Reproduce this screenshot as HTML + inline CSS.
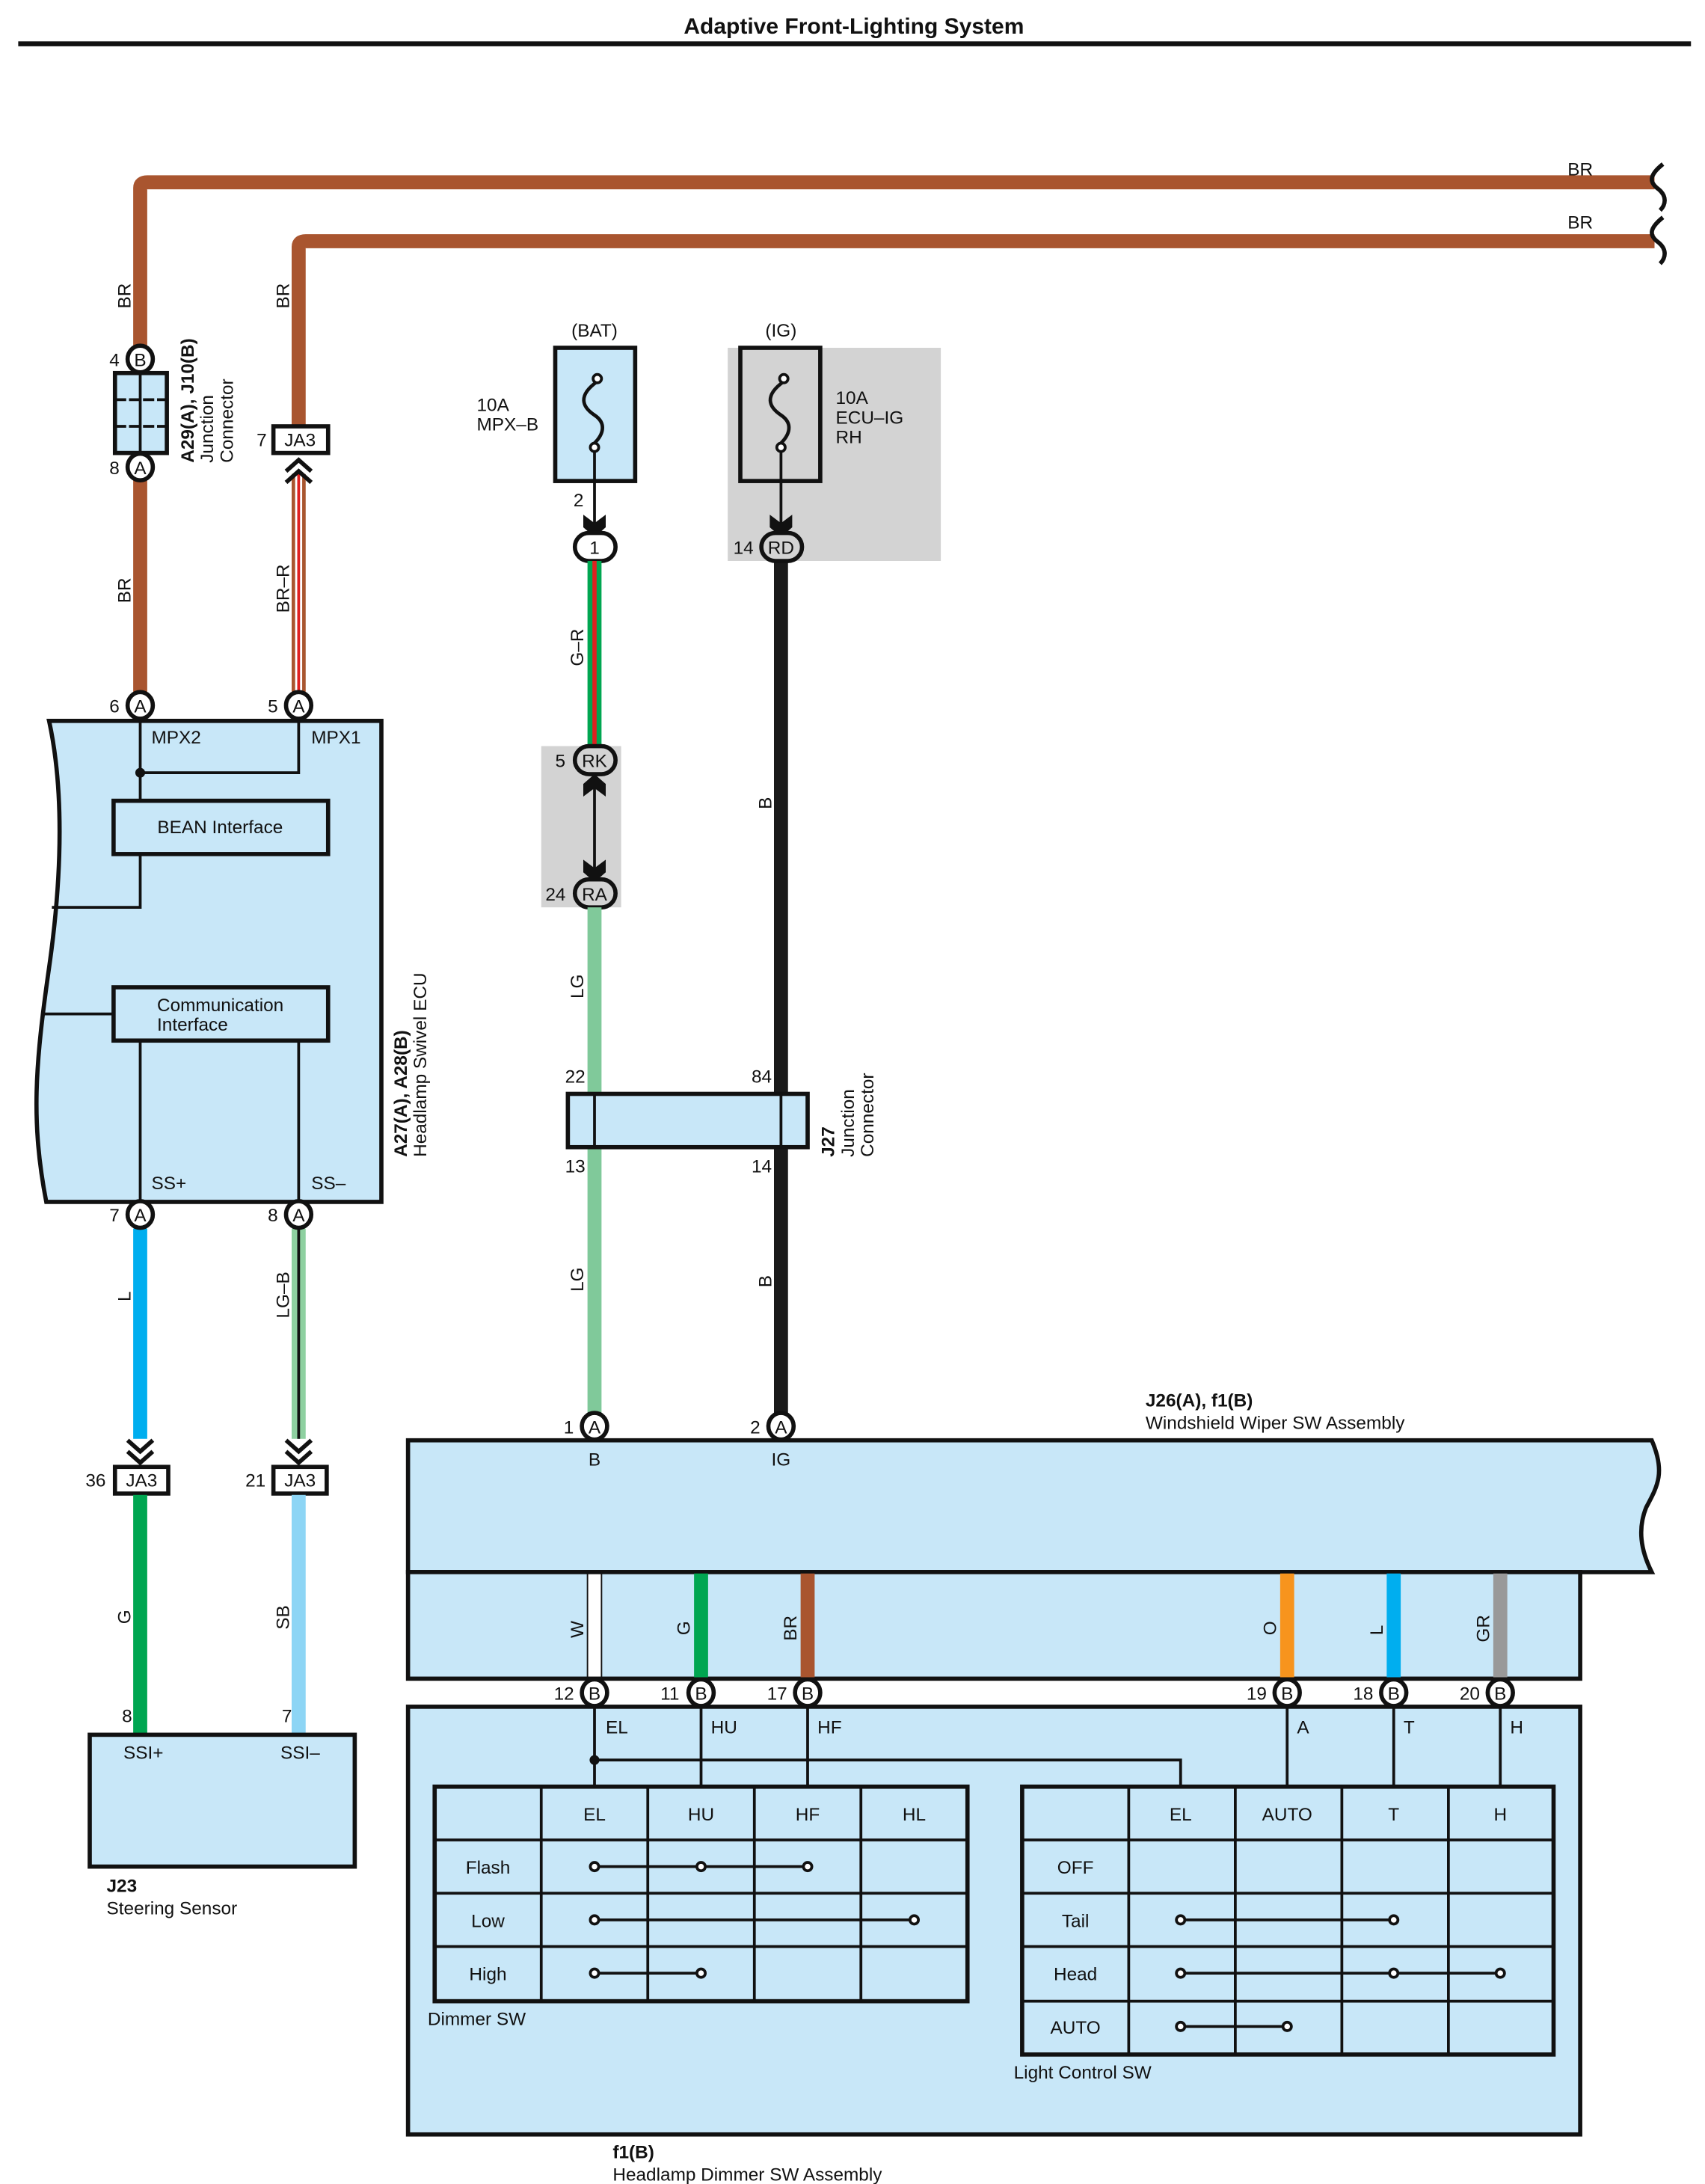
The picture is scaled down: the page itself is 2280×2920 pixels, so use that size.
<!DOCTYPE html>
<html><head><meta charset="utf-8"><style>
html,body{margin:0;padding:0;background:#fff}
svg{display:block}
text{font-family:"Liberation Sans",sans-serif;font-size:13px;fill:#111}
.b{font-weight:bold}
</style></head><body>
<svg width="2280" height="2920" viewBox="0 0 1216 1557.33" preserveAspectRatio="none" xmlns="http://www.w3.org/2000/svg">
<defs>
<g id="arD"><path d="M-8,-9 L0,-3 L8,-9 L8,0 L0,7 L-8,0 Z" fill="#111"/></g>
<g id="arU"><path d="M-8,9 L0,3 L8,9 L8,0 L0,-7 L-8,0 Z" fill="#111"/></g>
</defs>
<!-- title -->
<text x="609" y="24" text-anchor="middle" class="b" style="font-size:16px">Adaptive Front-Lighting System</text>
<rect x="13" y="29.5" width="1193" height="3.5" fill="#111"/>

<!-- top BR wires -->
<path d="M100,248 V134 Q100,130 105,130 H1180" stroke="#A9552F" stroke-width="10" fill="none"/>
<path d="M213,305 V176 Q213,172 218,172 H1180" stroke="#A9552F" stroke-width="10" fill="none"/>
<path d="M1186,117 C1176,125 1176,130 1183,135 C1189,140 1188,146 1184,150" stroke="#111" stroke-width="3" fill="none"/>
<path d="M1186,155 C1176,163 1176,168 1183,173 C1189,178 1188,184 1184,188" stroke="#111" stroke-width="3" fill="none"/>
<text x="1118" y="125">BR</text>
<text x="1118" y="163">BR</text>
<text transform="translate(93,220) rotate(-90)">BR</text>
<text transform="translate(206,220) rotate(-90)">BR</text>

<!-- A29 connector -->
<rect x="95" y="340" width="10" height="160" fill="#A9552F"/>
<text transform="translate(93,430) rotate(-90)">BR</text>
<rect x="82" y="266" width="37" height="57" fill="#C8E7F8" stroke="#111" stroke-width="3"/>
<line x1="100" y1="266" x2="100" y2="323" stroke="#111" stroke-width="2"/>
<line x1="82" y1="285" x2="119" y2="285" stroke="#111" stroke-width="2" stroke-dasharray="8,2"/>
<line x1="82" y1="304" x2="119" y2="304" stroke="#111" stroke-width="2" stroke-dasharray="8,2"/>
<ellipse cx="100" cy="256" rx="9" ry="9.5" fill="#fff" stroke="#111" stroke-width="3"/><text x="100" y="261" text-anchor="middle">B</text><text x="78" y="261">4</text>
<ellipse cx="100" cy="333" rx="9" ry="9.5" fill="#fff" stroke="#111" stroke-width="3"/><text x="100" y="338" text-anchor="middle">A</text><text x="78" y="338">8</text>
<text transform="translate(138,330) rotate(-90)" class="b">A29(A), J10(B)</text>
<text transform="translate(152,330) rotate(-90)">Junction</text>
<text transform="translate(166,330) rotate(-90)">Connector</text>

<!-- JA3 top -->
<rect x="195" y="304" width="39" height="19" fill="#fff" stroke="#111" stroke-width="3"/>
<text x="214" y="318" text-anchor="middle">JA3</text><text x="183" y="318">7</text>
<rect x="208" y="338" width="10" height="160" fill="#A9552F"/>
<rect x="210.5" y="338" width="5" height="160" fill="#fff"/>
<rect x="212" y="338" width="2" height="160" fill="#E02020"/>
<path d="M204,336 L213,328 L222,336 M204,344 L213,336 L222,344" stroke="#111" stroke-width="3" fill="none"/>
<text transform="translate(206,437) rotate(-90)">BR–R</text>

<!-- ECU -->
<path d="M35,514 H272 V857 H33 C22,800 25,760 35,690 C45,620 45,560 35,514 Z" fill="#C8E7F8" stroke="#111" stroke-width="3"/>
<ellipse cx="100" cy="503" rx="9" ry="9.5" fill="#fff" stroke="#111" stroke-width="3"/><text x="100" y="508" text-anchor="middle">A</text><text x="78" y="508">6</text>
<ellipse cx="213" cy="503" rx="9" ry="9.5" fill="#fff" stroke="#111" stroke-width="3"/><text x="213" y="508" text-anchor="middle">A</text><text x="191" y="508">5</text>
<text x="108" y="530">MPX2</text><text x="222" y="530">MPX1</text>
<path d="M100,514 V571 M213,514 V551 H100" stroke="#111" stroke-width="2" fill="none"/>
<circle cx="100" cy="551" r="3.5" fill="#111"/>
<rect x="81" y="571" width="153" height="38" fill="#C8E7F8" stroke="#111" stroke-width="3"/>
<text x="157" y="594" text-anchor="middle">BEAN Interface</text>
<path d="M100,609 V647 H37" stroke="#111" stroke-width="2" fill="none"/>
<rect x="81" y="704" width="153" height="38" fill="#C8E7F8" stroke="#111" stroke-width="3"/>
<text x="112" y="721">Communication</text><text x="112" y="735">Interface</text>
<path d="M81,723 H31" stroke="#111" stroke-width="2"/>
<path d="M100,742 V857 M213,742 V857" stroke="#111" stroke-width="2"/>
<text x="108" y="848">SS+</text><text x="222" y="848">SS–</text>
<text transform="translate(290,825) rotate(-90)" class="b">A27(A), A28(B)</text>
<text transform="translate(304,825) rotate(-90)">Headlamp Swivel ECU</text>

<!-- lower left wires -->
<rect x="95" y="876" width="10" height="150" fill="#00AEEF"/>
<rect x="208" y="876" width="10" height="150" fill="#8ED0A0"/>
<rect x="212" y="876" width="2" height="150" fill="#111"/>
<ellipse cx="100" cy="866" rx="9" ry="9.5" fill="#fff" stroke="#111" stroke-width="3"/><text x="100" y="871" text-anchor="middle">A</text><text x="78" y="871">7</text>
<ellipse cx="213" cy="866" rx="9" ry="9.5" fill="#fff" stroke="#111" stroke-width="3"/><text x="213" y="871" text-anchor="middle">A</text><text x="191" y="871">8</text>
<text transform="translate(93,928) rotate(-90)">L</text>
<text transform="translate(206,940) rotate(-90)">LG–B</text>
<path d="M91,1027 L100,1035 L109,1027 M91,1035 L100,1043 L109,1035" stroke="#111" stroke-width="3" fill="none"/>
<path d="M204,1027 L213,1035 L222,1027 M204,1035 L213,1043 L222,1035" stroke="#111" stroke-width="3" fill="none"/>
<rect x="82" y="1046" width="38" height="19" fill="#fff" stroke="#111" stroke-width="3"/><text x="101" y="1060" text-anchor="middle">JA3</text><text x="61" y="1060">36</text>
<rect x="195" y="1046" width="38" height="19" fill="#fff" stroke="#111" stroke-width="3"/><text x="214" y="1060" text-anchor="middle">JA3</text><text x="175" y="1060">21</text>
<rect x="95" y="1066" width="10" height="171" fill="#00A651"/>
<rect x="208" y="1066" width="10" height="171" fill="#8DD5F5"/>
<text transform="translate(93,1158) rotate(-90)">G</text>
<text transform="translate(206,1162) rotate(-90)">SB</text>
<text x="87" y="1228">8</text><text x="201" y="1228">7</text>
<rect x="64" y="1237" width="189" height="94" fill="#C8E7F8" stroke="#111" stroke-width="3"/>
<text x="88" y="1254">SSI+</text><text x="200" y="1254">SSI–</text>
<text x="76" y="1349" class="b">J23</text><text x="76" y="1365">Steering Sensor</text>

<!-- BAT fuse -->
<text x="424" y="240" text-anchor="middle">(BAT)</text>
<rect x="396" y="248" width="57" height="95" fill="#C8E7F8" stroke="#111" stroke-width="3"/>
<path d="M426,272 C412,282 415,290 424,296 C433,302 430,310 424,316" stroke="#111" stroke-width="2.5" fill="none"/>
<circle cx="426" cy="270" r="3" fill="#fff" stroke="#111" stroke-width="2"/><circle cx="424" cy="319" r="3" fill="#fff" stroke="#111" stroke-width="2"/>
<text x="340" y="293">10A</text><text x="340" y="307">MPX–B</text>
<line x1="424" y1="322" x2="424" y2="374" stroke="#111" stroke-width="2"/>
<use href="#arD" x="424" y="376"/>
<text x="409" y="361">2</text>
<rect x="410" y="380" width="29" height="20" rx="10" fill="#fff" stroke="#111" stroke-width="3"/><text x="424" y="395" text-anchor="middle">1</text>
<rect x="419" y="400" width="10" height="135" fill="#00A651"/>
<rect x="422.5" y="400" width="3" height="135" fill="#E02020"/>
<text transform="translate(416,475) rotate(-90)">G–R</text>

<!-- IG fuse -->
<rect x="519" y="248" width="152" height="152" fill="#D3D3D3"/>
<text x="557" y="240" text-anchor="middle">(IG)</text>
<rect x="528" y="248" width="57" height="95" fill="#D3D3D3" stroke="#111" stroke-width="3"/>
<path d="M559,272 C545,282 548,290 557,296 C566,302 563,310 557,316" stroke="#111" stroke-width="2.5" fill="none"/>
<circle cx="559" cy="270" r="3" fill="#fff" stroke="#111" stroke-width="2"/><circle cx="557" cy="319" r="3" fill="#fff" stroke="#111" stroke-width="2"/>
<text x="596" y="288">10A</text><text x="596" y="302">ECU–IG</text><text x="596" y="316">RH</text>
<line x1="557" y1="322" x2="557" y2="374" stroke="#111" stroke-width="2"/>
<use href="#arD" x="557" y="376"/>
<rect x="552" y="400" width="10" height="610" fill="#1a1a1a"/>
<rect x="543" y="380" width="29" height="20" rx="10" fill="#D3D3D3" stroke="#111" stroke-width="3"/><text x="557" y="395" text-anchor="middle">RD</text><text x="523" y="395">14</text>
<text transform="translate(550,577) rotate(-90)">B</text>
<text transform="translate(550,918) rotate(-90)">B</text>

<!-- RK/RA -->
<rect x="386" y="532" width="57" height="115" fill="#D3D3D3"/>
<line x1="424" y1="556" x2="424" y2="624" stroke="#111" stroke-width="2"/>
<use href="#arU" x="424" y="559"/>
<use href="#arD" x="424" y="622"/>
<rect x="410" y="532" width="29" height="20" rx="10" fill="#D3D3D3" stroke="#111" stroke-width="3"/><text x="424" y="547" text-anchor="middle">RK</text><text x="396" y="547">5</text>
<rect x="410" y="627" width="29" height="20" rx="10" fill="#D3D3D3" stroke="#111" stroke-width="3"/><text x="424" y="642" text-anchor="middle">RA</text><text x="389" y="642">24</text>
<rect x="419" y="647" width="10" height="363" fill="#80C99A"/>
<text transform="translate(416,712) rotate(-90)">LG</text>
<text transform="translate(416,921) rotate(-90)">LG</text>

<!-- J27 -->
<rect x="405" y="780" width="171" height="38" fill="#C8E7F8" stroke="#111" stroke-width="3"/>
<line x1="424" y1="780" x2="424" y2="818" stroke="#111" stroke-width="2"/>
<line x1="557" y1="780" x2="557" y2="818" stroke="#111" stroke-width="2"/>
<text x="403" y="772">22</text><text x="536" y="772">84</text><text x="403" y="836">13</text><text x="536" y="836">14</text>
<text transform="translate(595,825) rotate(-90)" class="b">J27</text>
<text transform="translate(609,825) rotate(-90)">Junction</text>
<text transform="translate(623,825) rotate(-90)">Connector</text>

<!-- Windshield Wiper SW Assembly -->
<text x="817" y="1003" class="b">J26(A), f1(B)</text><text x="817" y="1019">Windshield Wiper SW Assembly</text>
<path d="M291,1027 H1178 C1188,1050 1182,1060 1174,1075 C1168,1090 1170,1105 1178,1121 H291 Z" fill="#C8E7F8" stroke="#111" stroke-width="3"/>
<ellipse cx="424" cy="1017" rx="9" ry="9.5" fill="#fff" stroke="#111" stroke-width="3"/><text x="424" y="1022" text-anchor="middle">A</text><text x="402" y="1022">1</text>
<ellipse cx="557" cy="1017" rx="9" ry="9.5" fill="#fff" stroke="#111" stroke-width="3"/><text x="557" y="1022" text-anchor="middle">A</text><text x="535" y="1022">2</text>
<text x="424" y="1045" text-anchor="middle">B</text><text x="557" y="1045" text-anchor="middle">IG</text>
<rect x="291" y="1121" width="836" height="76" fill="#C8E7F8" stroke="#111" stroke-width="3"/>
<rect x="419" y="1122" width="10" height="74" fill="#fff" stroke="#111" stroke-width="1"/>
<rect x="495" y="1122" width="10" height="74" fill="#00A651"/>
<rect x="571" y="1122" width="10" height="74" fill="#A9552F"/>
<rect x="913" y="1122" width="10" height="74" fill="#F7941D"/>
<rect x="989" y="1122" width="10" height="74" fill="#00AEEF"/>
<rect x="1065" y="1122" width="10" height="74" fill="#999"/>
<text transform="translate(416,1168) rotate(-90)">W</text>
<text transform="translate(492,1166) rotate(-90)">G</text>
<text transform="translate(568,1170) rotate(-90)">BR</text>
<text transform="translate(910,1166) rotate(-90)">O</text>
<text transform="translate(986,1166) rotate(-90)">L</text>
<text transform="translate(1062,1171) rotate(-90)">GR</text>

<!-- Headlamp Dimmer SW Assembly -->
<rect x="291" y="1217" width="836" height="305" fill="#C8E7F8" stroke="#111" stroke-width="3"/>
<g stroke="#111" stroke-width="2" fill="none">
<path d="M424,1217 V1274 M424,1255 H842 V1274 M500,1217 V1274 M576,1217 V1274 M918,1217 V1274 M994,1217 V1274 M1070,1217 V1274"/>
</g>
<circle cx="424" cy="1255" r="3.5" fill="#111"/>
<g font-size="13">
<ellipse cx="424" cy="1207" rx="9" ry="9.5" fill="#fff" stroke="#111" stroke-width="3"/><text x="424" y="1212" text-anchor="middle">B</text><text x="395" y="1212">12</text>
<ellipse cx="500" cy="1207" rx="9" ry="9.5" fill="#fff" stroke="#111" stroke-width="3"/><text x="500" y="1212" text-anchor="middle">B</text><text x="471" y="1212">11</text>
<ellipse cx="576" cy="1207" rx="9" ry="9.5" fill="#fff" stroke="#111" stroke-width="3"/><text x="576" y="1212" text-anchor="middle">B</text><text x="547" y="1212">17</text>
<ellipse cx="918" cy="1207" rx="9" ry="9.5" fill="#fff" stroke="#111" stroke-width="3"/><text x="918" y="1212" text-anchor="middle">B</text><text x="889" y="1212">19</text>
<ellipse cx="994" cy="1207" rx="9" ry="9.5" fill="#fff" stroke="#111" stroke-width="3"/><text x="994" y="1212" text-anchor="middle">B</text><text x="965" y="1212">18</text>
<ellipse cx="1070" cy="1207" rx="9" ry="9.5" fill="#fff" stroke="#111" stroke-width="3"/><text x="1070" y="1212" text-anchor="middle">B</text><text x="1041" y="1212">20</text>
</g>
<text x="432" y="1236">EL</text><text x="507" y="1236">HU</text><text x="583" y="1236">HF</text>
<text x="925" y="1236">A</text><text x="1001" y="1236">T</text><text x="1077" y="1236">H</text>

<!-- Dimmer table -->
<g stroke="#111" fill="none">
<rect x="310" y="1274" width="380" height="153" stroke-width="3"/>
<path d="M386,1274 V1427 M462,1274 V1427 M538,1274 V1427 M614,1274 V1427 M310,1312 H690 M310,1350 H690 M310,1388 H690" stroke-width="2"/>
</g>
<text x="424" y="1298" text-anchor="middle">EL</text><text x="500" y="1298" text-anchor="middle">HU</text><text x="576" y="1298" text-anchor="middle">HF</text><text x="652" y="1298" text-anchor="middle">HL</text>
<text x="348" y="1336" text-anchor="middle">Flash</text><text x="348" y="1374" text-anchor="middle">Low</text><text x="348" y="1412" text-anchor="middle">High</text>
<g stroke="#111" stroke-width="2" fill="#fff">
<line x1="424" y1="1331" x2="576" y2="1331"/><circle cx="424" cy="1331" r="3"/><circle cx="500" cy="1331" r="3"/><circle cx="576" cy="1331" r="3"/>
<line x1="424" y1="1369" x2="652" y2="1369"/><circle cx="424" cy="1369" r="3"/><circle cx="652" cy="1369" r="3"/>
<line x1="424" y1="1407" x2="500" y2="1407"/><circle cx="424" cy="1407" r="3"/><circle cx="500" cy="1407" r="3"/>
</g>
<text x="305" y="1444">Dimmer SW</text>

<!-- Light control table -->
<g stroke="#111" fill="none">
<rect x="729" y="1274" width="379" height="191" stroke-width="3"/>
<path d="M805,1274 V1465 M881,1274 V1465 M957,1274 V1465 M1033,1274 V1465 M729,1312 H1108 M729,1350 H1108 M729,1388 H1108 M729,1427 H1108" stroke-width="2"/>
</g>
<text x="842" y="1298" text-anchor="middle">EL</text><text x="918" y="1298" text-anchor="middle">AUTO</text><text x="994" y="1298" text-anchor="middle">T</text><text x="1070" y="1298" text-anchor="middle">H</text>
<text x="767" y="1336" text-anchor="middle">OFF</text><text x="767" y="1374" text-anchor="middle">Tail</text><text x="767" y="1412" text-anchor="middle">Head</text><text x="767" y="1450" text-anchor="middle">AUTO</text>
<g stroke="#111" stroke-width="2" fill="#fff">
<line x1="842" y1="1369" x2="994" y2="1369"/><circle cx="842" cy="1369" r="3"/><circle cx="994" cy="1369" r="3"/>
<line x1="842" y1="1407" x2="1070" y2="1407"/><circle cx="842" cy="1407" r="3"/><circle cx="994" cy="1407" r="3"/><circle cx="1070" cy="1407" r="3"/>
<line x1="842" y1="1445" x2="918" y2="1445"/><circle cx="842" cy="1445" r="3"/><circle cx="918" cy="1445" r="3"/>
</g>
<text x="723" y="1482">Light Control SW</text>

<text x="437" y="1539" class="b">f1(B)</text><text x="437" y="1555">Headlamp Dimmer SW Assembly</text>
</svg>
</body></html>
